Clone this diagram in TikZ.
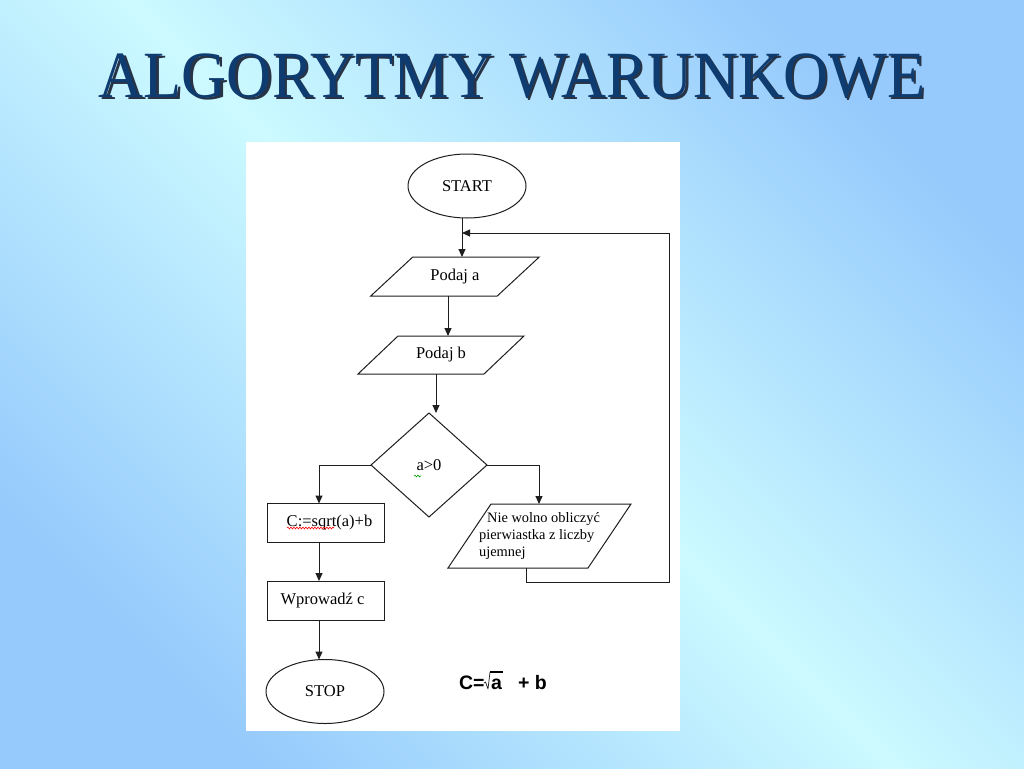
\documentclass[tikz,border=0pt]{standalone}
\usepackage{fontspec}
\setmainfont{Liberation Serif}
\newfontfamily\arialfont{Liberation Sans}
\usetikzlibrary{shapes.geometric,arrows.meta,decorations.pathmorphing,calc}
\definecolor{bgblue}{RGB}{150,202,252}
\definecolor{bgcyan}{RGB}{204,250,255}
\definecolor{titleblue}{RGB}{14,60,112}
\definecolor{titleshade}{RGB}{40,52,70}
\definecolor{linegray}{RGB}{30,30,30}
\newcommand{\titlebody}{\scalebox{0.945}[1]{\fontsize{66}{70}\selectfont ALGORYTMY WARUNKOWE}}
\newcommand{\drawpara}[2]{\draw[shapeline] ($(#1.south west)+(-#2,0)$) -- ($(#1.south east)+(-#2,0)$) -- ($(#1.north east)+(#2,0)$) -- ($(#1.north west)+(#2,0)$) -- cycle;}
\begin{document}
\begin{tikzpicture}[x=1pt,y=-1pt,
  every node/.style={inner sep=0pt, outer sep=0pt},
  shapeline/.style={draw=linegray, line width=1pt},
  flowtext/.style={font=\fontsize{16.5}{19}\selectfont},
  terminal/.style={shapeline, flowtext, ellipse, minimum width=118, minimum height=64},
  procbox/.style={shapeline, flowtext, rectangle, minimum width=117, minimum height=39},
  iobody/.style={flowtext, rectangle},
  decision/.style={shapeline, flowtext, diamond, minimum width=116, minimum height=104},
  conn/.style={draw=linegray, line width=1pt},
  arr/.style={conn, -{Triangle[length=8pt,width=7pt]}},
  spell/.style={line width=0.6pt, decorate, decoration={snake, amplitude=0.9pt, segment length=3pt}},
  formtext/.style={anchor=base west, font=\arialfont\bfseries\fontsize{19.5}{22}\selectfont},
]
\useasboundingbox (0,0) rectangle (1024,768);
\shade[top color=bgblue, bottom color=bgblue, middle color=bgcyan, shading angle=-45] (0,0) rectangle (1024,768);

% title with shadow
\node[anchor=base, text=titleblue] (title) at (512,97)
  {\rlap{\kern2.5pt\raisebox{-2.5pt}{\color{titleshade}\titlebody}}\titlebody};

% panel
\fill[white] (246,142) rectangle (680,731);

% nodes
\node[terminal] (start) at (467,186) {START};
\node[iobody, minimum width=126.5, minimum height=39] (pa) at (455,276.5) {Podaj a};
\drawpara{pa}{21}
\node[iobody, minimum width=126, minimum height=38] (pb) at (441,355) {Podaj b};
\drawpara{pb}{20}
\node[decision] (dec) at (429,465) {a>0};
\node[procbox] (cbox) at (325.5,523) {\hspace*{8pt}C:=sqrt(a)+b};
\node[procbox] (wbox) at (325.5,600.5) {Wprowadź c\hspace*{6pt}};
\node[terminal] (stop) at (325,691.5) {STOP};
\node[iobody, minimum width=140, minimum height=64, align=left, font=\fontsize{14.4}{16.8}\selectfont] (nie) at (539.5,536)
  {\hspace*{8pt}Nie wolno obliczyć\\pierwiastka z liczby\\ujemnej\hspace*{7pt}};
\drawpara{nie}{21.5}

% formula C = sqrt(a) + b
\node[formtext] (fc) at (459,689) {C=};
\node[formtext] (fa) at (491,689) {a};
\node[formtext] (fb) at (518,689) {+ b};
\draw[linegray, line width=0.7pt, line join=round]
  ($(fa.base west)+(-7,-6)$) -- ($(fa.base west)+(-5.5,-7)$) -- ($(fa.base west)+(-3,0)$) -- ($(fa.base west)+(-1,-17)$);
\draw[black, line width=1.3pt] ($(fa.base west)+(-1.2,-17)$) -- ($(fa.base east)+(1.5,-17)$);

% spell-check marks
\draw[spell, red] (287,528) -- (334,528);
\draw[spell, green!60!black] (414,476) -- (421,476);

% connector x positions
\coordinate (xa) at (462,0);
\coordinate (xb) at (448,0);
\coordinate (xc) at (436,0);
\coordinate (xl) at (319,0);
\coordinate (xr) at (539,0);
\coordinate (xn) at (526,0);
\coordinate (lp1) at (669,582);
\coordinate (lp2) at (669,233);

\draw[arr] (xa |- start.south) -- (xa |- pa.north);
\draw[arr] (xb |- pa.south) -- (xb |- pb.north);
\draw[arr] (xc |- pb.south) -- (xc |- dec.north);
\draw[arr] (dec.west) -| (xl |- cbox.north);
\draw[arr] (dec.east) -| (xr |- nie.north);
\draw[arr] (xl |- cbox.south) -- (xl |- wbox.north);
\draw[arr] (xl |- wbox.south) -- (xl |- stop.north);
\draw[arr] (xn |- nie.south) |- (lp1) -- (lp2) -- (xa |- lp2);
\end{tikzpicture}
\end{document}
